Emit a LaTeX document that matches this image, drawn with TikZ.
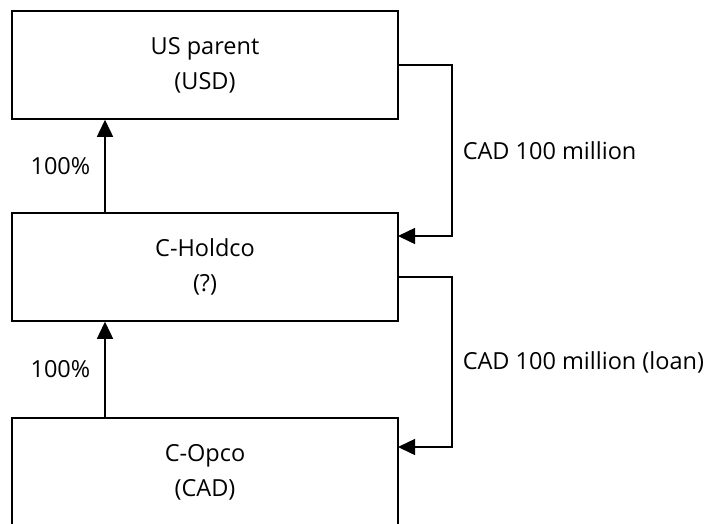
\documentclass[tikz,border=0pt]{standalone}
\usepackage{fontspec}
\setmainfont{Open Sans}
\usetikzlibrary{arrows.meta}
\tikzset{
  entity/.style = {draw, line width=1.5pt, minimum width=386pt, minimum height=108pt, align=center, inner sep=0pt, font=\fontsize{23.5}{35}\selectfont},
  flow/.style = {line width=1.5pt, -{Triangle[length=17pt,width=16pt]}},
  lbl/.style = {font=\fontsize{23.5}{28}\selectfont}
}
\begin{document}
\begin{tikzpicture}[x=1pt,y=-1pt]
    \clip (0,0) rectangle (708,523);
    \node[entity] (usp) at (205,65) {US parent\\(USD)};
    \node[entity] (hold) at (205,267) {C-Holdco\\(?)};
    \node[entity] (opco) at (205,472) {C-Opco\\(CAD)};
    % ownership
    \coordinate (own) at (105,0);
    \draw[flow] (hold.north -| own) -- node[lbl,anchor = east,inner sep=14pt] (own1) {100\%} (usp.south -| own);
    \draw[flow] (opco.north -| own) -- node[lbl,anchor = east,inner sep=14pt] (own2) {100\%} (hold.south -| own);
    % funding
    \coordinate (r1) at (452,65);
    \coordinate (in1) at (398,236);
    \coordinate (out2) at (398,277);
    \coordinate (r2) at (452,277);
    \coordinate (in2) at (398,447);
    \draw[flow] (usp.east) -- (r1) -- node[lbl,anchor = west,inner sep=10pt] (cash) {CAD 100 million} (r1 |- in1) -- (in1);
    \draw[flow] (out2) -- (r2) -- node[lbl,anchor = west,inner sep=10pt] (loan) {CAD 100 million (loan)} (r2 |- in2) -- (in2);
\end{tikzpicture}
\end{document}
